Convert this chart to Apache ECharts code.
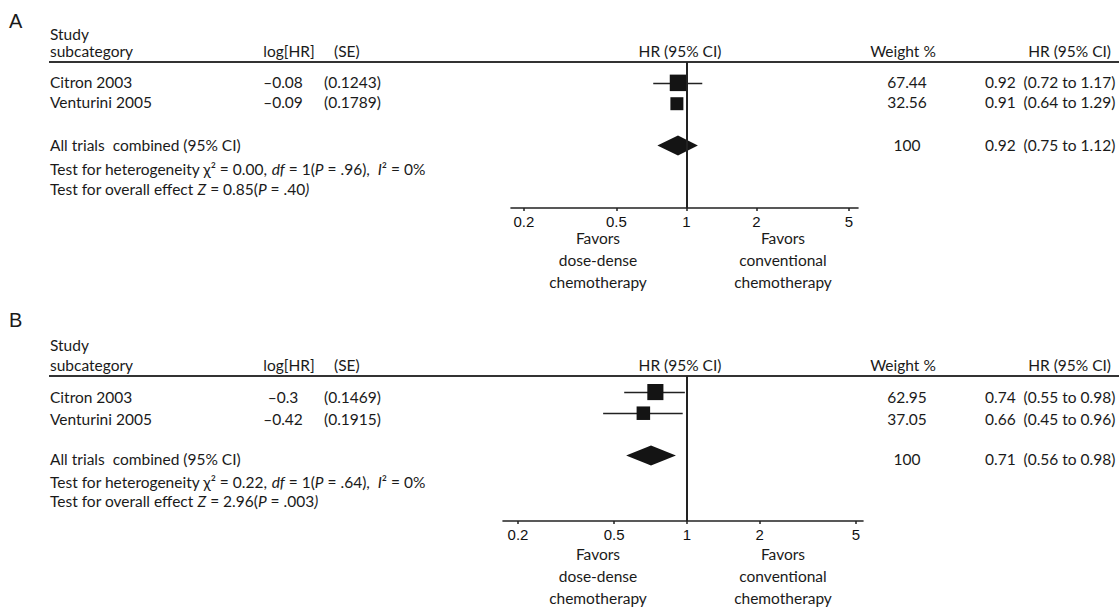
<!DOCTYPE html>
<html><head><meta charset="utf-8">
<script src="https://cdn.jsdelivr.net/npm/echarts@6/dist/echarts.min.js"></script>
<style>html,body{margin:0;padding:0;background:#fff}#c{width:1119px;height:608px}</style>
</head><body><div id="c"></div><script>
// ---------------- data ----------------
const studies = ['Citron 2003', 'Venturini 2005'];
const hrTicks = [0.2, 0.5, 1, 2, 5];
const pooledLabel = 'All trials  combined (95% CI)';
const favorsLeft = 'Favors\ndose-dense\nchemotherapy';
const favorsRight = 'Favors\nconventional\nchemotherapy';

// Panel A
const logHrA = ['\u20130.08', '\u20130.09'];
const seA = ['(0.1243)', '(0.1789)'];
const weightA = [67.44, 32.56];
const hrA = [0.92, 0.91];
const loA = [0.72, 0.64];
const hiA = [1.17, 1.29];
const whiskerShownA = [true, false];
const pooledA = [0.92, 0.75, 1.12];          // HR, lower, upper (drawn)
const pooledTextA = [0.92, 0.75, 1.12];      // HR, lower, upper (printed)
const hetA = ['0.00', '1', '.96', '0%'];      // chi2, df, P, I2
const overallA = ['0.85', '.40'];             // Z, P

// Panel B
const logHrB = ['\u20130.3', '\u20130.42'];
const seB = ['(0.1469)', '(0.1915)'];
const weightB = [62.95, 37.05];
const hrB = [0.74, 0.66];
const loB = [0.55, 0.45];
const hiB = [0.98, 0.96];
const whiskerShownB = [true, true];
const pooledB = [0.71, 0.56, 0.90];
const pooledTextB = [0.71, 0.56, 0.98];
const hetB = ['0.22', '1', '.64', '0%'];
const overallB = ['2.96', '.003'];

// ---------------- layout ----------------
const FONT = 'Lato';
const FS = 15.5;
const INK = '#1a1a1a';
const panels = [
  { letter: 'A', line: 62, axisY: 208, left: 511, right: 858, xmin: 0.176, xmax: 5.47, ymin: 0, ymax: 7,
    ty: { letter: -41, study: -28, sub: -11, rows: [20, 40], all: 83, het: 107, ov: 127, fav: 19 },
    logHr: logHrA, se: seA, weight: weightA, hr: hrA, lo: loA, hi: hiA, whisk: whiskerShownA,
    pooled: pooledA, pooledText: pooledTextA, het: hetA, overall: overallA },
  { letter: 'B', line: 376, axisY: 521, left: 503, right: 863, xmin: 0.1734, xmax: 5.345, ymin: 0.24, ymax: 7.1,
    ty: { letter: -56, study: -31, sub: -11, rows: [21, 43], all: 83, het: 106, ov: 125, fav: 22 },
    logHr: logHrB, se: seB, weight: weightB, hr: hrB, lo: loB, hi: hiB, whisk: whiskerShownB,
    pooled: pooledB, pooledText: pooledTextB, het: hetB, overall: overallB }
];

function txt(x, y, text, align, extra) {
  return {
    type: 'text', x: x, y: y, silent: true,
    style: Object.assign({
      text: text, fill: INK, fontFamily: FONT, fontSize: FS,
      textAlign: align || 'left', align: align || 'left',
      textVerticalAlign: 'middle', verticalAlign: 'middle'
    }, extra || {})
  };
}
const richIt = { i: { fontFamily: FONT, fontSize: FS, fontStyle: 'italic', fill: INK } };

const grids = [], xAxes = [], yAxes = [], series = [], graphics = [];
panels.forEach((p, k) => {
  const L = p.line, t = p.ty;
  grids.push({ left: p.left, width: p.right - p.left, top: L, height: p.axisY - L });
  xAxes.push({
    type: 'log', gridIndex: k, min: p.xmin, max: p.xmax,
    axisLine: { onZero: false, lineStyle: { color: '#222', width: 1.6 } },
    axisTick: { customValues: hrTicks, length: 3, lineStyle: { color: '#222', width: 1.5 } },
    axisLabel: { customValues: hrTicks, color: '#111', fontFamily: 'Liberation Sans', fontSize: 15, margin: 6,
      formatter: v => String(+(+v).toPrecision(3)) },
    splitLine: { show: false }, minorTick: { show: false }
  });
  yAxes.push({ type: 'value', gridIndex: k, inverse: true, min: p.ymin, max: p.ymax, show: false });

  // CI whiskers
  series.push({
    type: 'lines', coordinateSystem: 'cartesian2d', xAxisIndex: k, yAxisIndex: k, silent: true,
    lineStyle: { color: '#222', width: 1.4, opacity: 1 },
    data: p.hr.map((h, i) => ({ coords: [[p.lo[i], i + 1], [p.hi[i], i + 1]] })).filter((d, i) => p.whisk[i])
  });
  // study squares (size from weight)
  series.push({
    type: 'scatter', xAxisIndex: k, yAxisIndex: k, silent: true, symbol: 'rect',
    symbolSize: v => 1.4 * Math.sqrt(v[2]) + 5,
    itemStyle: { color: '#141414', opacity: 1 },
    data: p.hr.map((h, i) => [h, i + 1, p.weight[i]]),
    markLine: {
      silent: true, symbol: 'none', label: { show: false },
      lineStyle: { color: '#222', width: 2, type: 'solid' },
      data: [{ xAxis: 1 }]
    }
  });
  // pooled diamond
  series.push({
    type: 'custom', xAxisIndex: k, yAxisIndex: k, silent: true,
    encode: { x: 0, y: 1 },
    data: [[p.pooled[0], 4, p.pooled[1], p.pooled[2]]],
    renderItem: (params, api) => {
      const c = api.coord([api.value(0), api.value(1)]);
      const a = api.coord([api.value(2), api.value(1)]);
      const b = api.coord([api.value(3), api.value(1)]);
      const h = 10;
      return { type: 'polygon', shape: { points: [[a[0], c[1]], [c[0], c[1] - h], [b[0], c[1]], [c[0], c[1] + h]] },
        style: { fill: '#141414' } };
    }
  });

  // header line
  graphics.push({ type: 'line', silent: true, shape: { x1: 49, y1: L, x2: 1119, y2: L }, style: { stroke: '#333', lineWidth: 2 } });
  // texts
  graphics.push(txt(9, L + t.letter, p.letter, 'left', { fontFamily: 'Liberation Sans', fontSize: 20 }));
  graphics.push(txt(50, L + t.study, 'Study'));
  graphics.push(txt(50, L + t.sub, 'subcategory'));
  graphics.push(txt(289, L + t.sub, 'log[HR]', 'center'));
  graphics.push(txt(334, L + t.sub, '(SE)'));
  graphics.push(txt(680, L + t.sub, 'HR (95% CI)', 'center'));
  graphics.push(txt(903, L + t.sub, 'Weight %', 'center'));
  graphics.push(txt(1111, L + t.sub, 'HR (95% CI)', 'right'));
  studies.forEach((s, i) => {
    const y = L + t.rows[i];
    graphics.push(txt(50, y, s));
    graphics.push(txt(283, y, p.logHr[i], 'center'));
    graphics.push(txt(324, y, p.se[i]));
    graphics.push(txt(907, y, p.weight[i].toFixed(2), 'center'));
    graphics.push(txt(985, y, p.hr[i].toFixed(2) + '  (' + p.lo[i].toFixed(2) + ' to ' + p.hi[i].toFixed(2) + ')'));
  });
  const totalW = p.weight.reduce((a, b) => a + b, 0);
  graphics.push(txt(50, L + t.all, pooledLabel));
  graphics.push(txt(907, L + t.all, String(Math.round(totalW)), 'center'));
  graphics.push(txt(985, L + t.all, p.pooledText[0].toFixed(2) + '  (' + p.pooledText[1].toFixed(2) + ' to ' + p.pooledText[2].toFixed(2) + ')'));
  graphics.push(txt(50, L + t.het,
    'Test for heterogeneity \u03c7\u00b2 = ' + p.het[0] + ', {i|df} = ' + p.het[1] + '({i|P} = ' + p.het[2] + '),  {i|I}\u00b2 = ' + p.het[3],
    'left', { rich: richIt }));
  graphics.push(txt(50, L + t.ov,
    'Test for overall effect {i|Z} = ' + p.overall[0] + '({i|P} = ' + p.overall[1] + '{i|)}',
    'left', { rich: richIt }));
  // favors labels
  graphics.push(txt(598, p.axisY + t.fav, favorsLeft, 'center', { textVerticalAlign: 'top', verticalAlign: 'top', lineHeight: 22 }));
  graphics.push(txt(783, p.axisY + t.fav, favorsRight, 'center', { textVerticalAlign: 'top', verticalAlign: 'top', lineHeight: 22 }));
});

const chart = echarts.init(document.getElementById('c'), null, { renderer: 'svg' });
chart.setOption({
  backgroundColor: '#fff',
  animation: false,
  grid: grids, xAxis: xAxes, yAxis: yAxes, series: series,
  graphic: { elements: graphics }
});
</script></body></html>
